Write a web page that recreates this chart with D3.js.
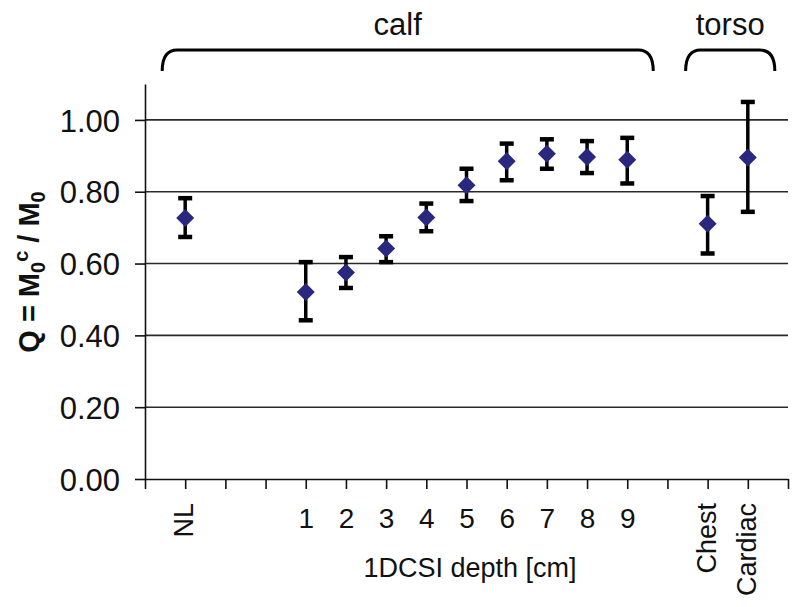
<!DOCTYPE html>
<html>
<head>
<meta charset="utf-8">
<script src="https://cdn.jsdelivr.net/npm/d3@7"></script>
<style>
  body { margin: 0; background: #fff; }
  text { font-family: "Liberation Sans", Arial, sans-serif; fill: #111; }
</style>
</head>
<body>
<div id="chart"></div>
<script>
// x slots of the category axis (blank slots are gaps)
const slots = ['', 'NL', '', '', '1', '2', '3', '4', '5', '6', '7', '8', '9', '', 'Chest', 'Cardiac', ''];
const categories = ['NL', '1', '2', '3', '4', '5', '6', '7', '8', '9', 'Chest', 'Cardiac'];
const means = [0.727, 0.521, 0.575, 0.642, 0.728, 0.818, 0.885, 0.906, 0.897, 0.889, 0.711, 0.895];
const upper = [0.782, 0.604, 0.618, 0.676, 0.767, 0.864, 0.934, 0.946, 0.941, 0.950, 0.788, 1.050];
const lower = [0.674, 0.442, 0.532, 0.604, 0.690, 0.774, 0.832, 0.864, 0.852, 0.823, 0.628, 0.744];
const yTicks = [0, 0.2, 0.4, 0.6, 0.8, 1.0];
const groups = [
  { name: 'calf', from: 'NL', to: '9' },
  { name: 'torso', from: 'Chest', to: 'Cardiac' }
];

let width = 800, height = 607;
let margin = { left: 145, right: 12, top: 84, bottom: 128 };

let svg = d3.select('#chart').append('svg')
  .attr('width', width)
  .attr('height', height);

let x = d3.scalePoint()
  .domain(d3.range(slots.length))
  .range([margin.left, width - margin.right]);

let y = d3.scaleLinear()
  .domain([0, 1.1])
  .range([height - margin.bottom, margin.top]);

let xOf = c => x(slots.indexOf(c));

// gridlines
svg.append('g')
  .selectAll('line')
  .data(yTicks.filter(d => d > 0))
  .enter().append('line')
  .attr('x1', margin.left)
  .attr('x2', width - margin.right)
  .attr('y1', d => y(d))
  .attr('y2', d => y(d))
  .attr('stroke', '#2a2a2a')
  .attr('stroke-width', 1.6);

// y axis
let yAxis = svg.append('g')
  .attr('transform', `translate(${margin.left},0)`)
  .call(d3.axisLeft(y).tickValues(yTicks).tickFormat(d3.format('.2f')).tickSize(10).tickSizeOuter(0).tickPadding(15));
yAxis.selectAll('text').style('font-size', '31px').attr('dy', '0.36em');

// x axis
let xAxis = svg.append('g')
  .attr('transform', `translate(0,${y(0)})`)
  .call(d3.axisBottom(x).tickFormat(i => slots[i]).tickSize(10).tickSizeOuter(0));
xAxis.selectAll('text')
  .style('font-size', '27px')
  .each(function (i) {
    let t = d3.select(this);
    if (isNaN(+slots[i]) ) {
      t.attr('y', 0).attr('dy', '0.36em')
        .attr('text-anchor', 'end')
        .attr('transform', 'translate(-2,24) rotate(-90)');
    } else {
      t.attr('y', 29).attr('dy', '0.71em').style('font-size', '28px');
    }
  });

svg.selectAll('.domain, .tick line').attr('stroke', '#111').attr('stroke-width', 1.6);

// error bars
let pts = categories.map((c, i) => ({ c, m: means[i], hi: upper[i], lo: lower[i] }));
let bars = svg.append('g');
bars.selectAll('.err')
  .data(pts)
  .enter().append('line')
  .attr('x1', d => xOf(d.c)).attr('x2', d => xOf(d.c))
  .attr('y1', d => y(d.hi)).attr('y2', d => y(d.lo))
  .attr('stroke', '#000').attr('stroke-width', 3.5);
['hi', 'lo'].forEach(k => {
  bars.selectAll('.cap-' + k)
    .data(pts)
    .enter().append('line')
    .attr('x1', d => xOf(d.c) - 7).attr('x2', d => xOf(d.c) + 7)
    .attr('y1', d => y(d[k])).attr('y2', d => y(d[k]))
    .attr('stroke', '#000').attr('stroke-width', 4.5);
});

// diamonds
svg.append('g')
  .selectAll('path')
  .data(pts)
  .enter().append('path')
  .attr('d', 'M0,-9L9,0L0,9L-9,0Z')
  .attr('transform', d => `translate(${xOf(d.c)},${y(d.m)})`)
  .attr('fill', '#29287e');

// group braces on top
let braceTop = 50, braceBottom = 71;
groups.forEach(g => {
  let x0 = xOf(g.from) - 23, x1 = xOf(g.to) + 26;
  if (g.name === 'torso') { x0 = xOf(g.from) - 22; x1 = xOf(g.to) + 27; }
  svg.append('path')
    .attr('d', `M${x0},${braceBottom} C${x0},${braceTop + 8} ${x0 + 4},${braceTop} ${x0 + 15},${braceTop}` +
      ` L${x1 - 15},${braceTop} C${x1 - 4},${braceTop} ${x1},${braceTop + 8} ${x1},${braceBottom}`)
    .attr('fill', 'none')
    .attr('stroke', '#000')
    .attr('stroke-width', 3);
  svg.append('text')
    .attr('x', g.name === 'calf' ? (x0 + x1) / 2 - 10 : (x0 + x1) / 2)
    .attr('y', 35)
    .attr('text-anchor', 'middle')
    .style('font-size', '31px')
    .text(g.name);
});

// axis titles
svg.append('text')
  .attr('x', 470)
  .attr('y', 577)
  .attr('text-anchor', 'middle')
  .style('font-size', '27px')
  .text('1DCSI depth [cm]');

let yt = svg.append('text')
  .attr('transform', 'translate(39,272) rotate(-90)')
  .attr('text-anchor', 'middle')
  .style('font-size', '29px')
  .style('font-weight', 'bold');
yt.append('tspan').text('Q = M');
yt.append('tspan').attr('dy', 6).style('font-size', '20px').text('0');
yt.append('tspan').attr('dy', -17).style('font-size', '20px').text('c');
yt.append('tspan').attr('dy', 11).text(' / M');
yt.append('tspan').attr('dy', 6).style('font-size', '20px').text('0');
</script>
</body>
</html>
